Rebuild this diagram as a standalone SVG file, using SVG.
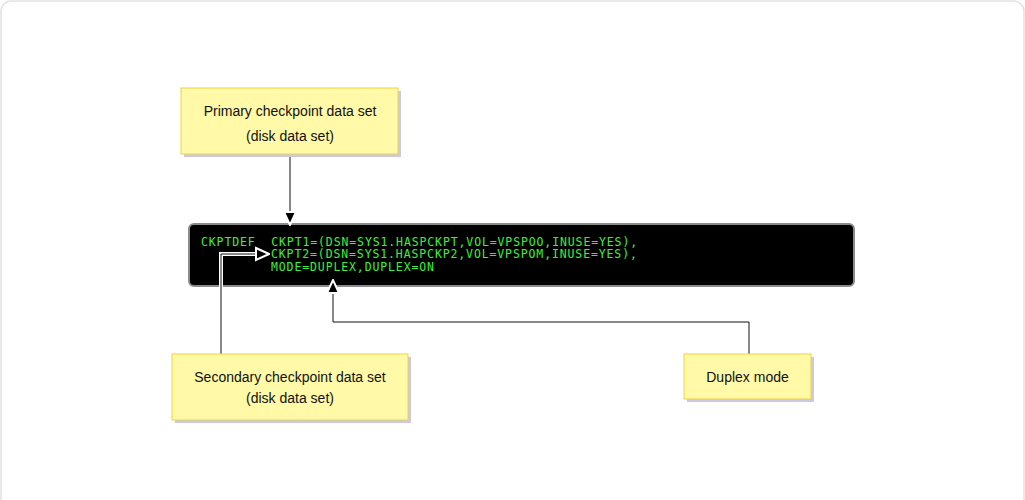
<svg xmlns="http://www.w3.org/2000/svg" width="1025" height="500" viewBox="0 0 1025 500">
<defs>
<style>
.card{fill:#fff;stroke:#e2e2e2;stroke-width:1.5}
.box{fill:#fff9a8;stroke:#f2d43c;stroke-width:1}
.shadow{fill:#c9c9ee}
.lbl{font-family:"Liberation Sans",Arial,sans-serif;font-size:14px;fill:#111;text-anchor:middle}
.code{font-family:"DejaVu Sans Mono",monospace;font-size:11.5px;letter-spacing:0.88px;fill:#3cf03c}
.conn{fill:none;stroke:#111;stroke-width:1}
.halo{fill:none;stroke:#fff;stroke-width:4}
</style>
<marker id="arr" viewBox="0 0 16 16" refX="15" refY="8" markerWidth="16" markerHeight="16" markerUnits="userSpaceOnUse" orient="auto">
<path d="M2,2 L15,8 L2,14 Z" fill="#000" stroke="#fff" stroke-width="2"/>
</marker>
</defs>
<rect class="card" x="1" y="1" width="1023" height="520" rx="10"/>
<g id="terminal">
<rect x="189" y="224" width="665" height="62" rx="5" fill="#000" stroke="#8a8a8a" stroke-width="2"/>
<text class="code" x="201" y="246" xml:space="preserve">CKPTDEF  CKPT1=(DSN=SYS1.HASPCKPT,VOL=VPSPOO,INUSE=YES),</text>
<text class="code" x="271" y="258">CKPT2=(DSN=SYS1.HASPCKP2,VOL=VPSPOM,INUSE=YES),</text>
<text class="code" x="271" y="270.5">MODE=DUPLEX,DUPLEX=ON</text>
</g>
<g id="connectors">
<path class="conn" d="M290,154 L290,225" marker-end="url(#arr)"/>
<path class="halo" d="M221,354 L221,254 L256,254"/>
<path class="conn" d="M221,354 L221,254 L269,254" marker-end="url(#arr)"/>
<path class="conn" d="M749,354 L749,322 L333,322 L333,280" marker-end="url(#arr)"/>
</g>
<g id="primary">
<rect class="shadow" x="184" y="91" width="217" height="66"/>
<rect class="box" x="181" y="88" width="217" height="66"/>
<text class="lbl" x="290" y="116">Primary checkpoint data set</text>
<text class="lbl" x="290" y="141">(disk data set)</text>
</g>
<g id="secondary">
<rect class="shadow" x="175" y="357" width="236" height="66"/>
<rect class="box" x="172" y="354" width="236" height="66"/>
<text class="lbl" x="290" y="382">Secondary checkpoint data set</text>
<text class="lbl" x="290" y="403">(disk data set)</text>
</g>
<g id="duplex">
<rect class="shadow" x="687" y="357" width="127" height="45"/>
<rect class="box" x="684" y="354" width="127" height="45"/>
<text class="lbl" x="747.5" y="382">Duplex mode</text>
</g>
</svg>
